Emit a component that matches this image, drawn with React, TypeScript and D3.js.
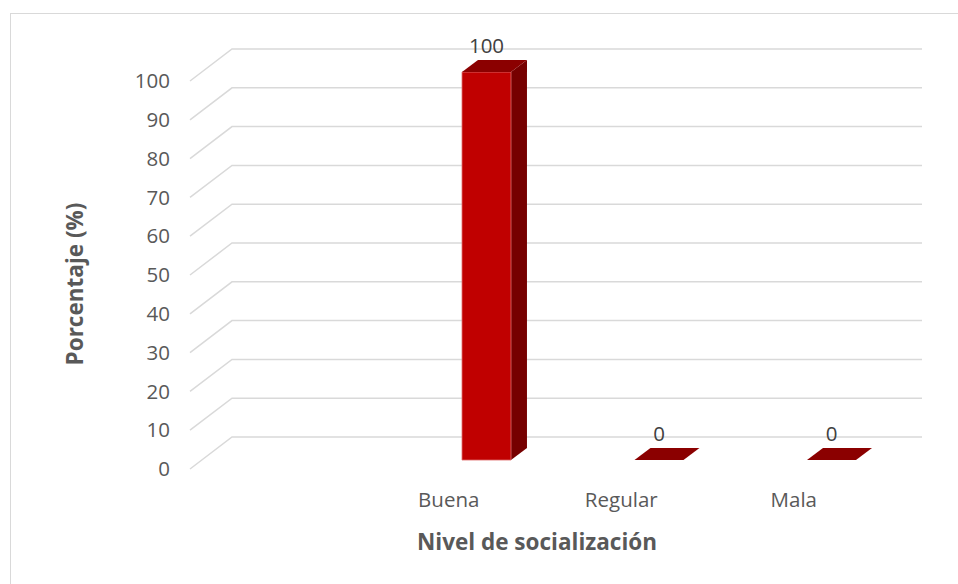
import * as d3 from 'd3'
import { FC } from 'react'

// data
const categories = ['', 'Buena', 'Regular', 'Mala']
const values: (number | null)[] = [null, 100, 0, 0]
const tickValues = [0, 10, 20, 30, 40, 50, 60, 70, 80, 90, 100]

const width = 958
const height = 584
const font = "'Open Sans', 'Liberation Sans', sans-serif"
const textColor = '#595959'
const gridColor = '#d9d9d9'

// 3d depth offsets (back wall relative to front plane)
const depthX = 42
const depthY = -32
// bar sits between these depth fractions
const barZ0 = 0.28
const barZ1 = 0.66
const barWidth = 49
const barShift = 26 // bars are drawn a bit right of the label position

const App: FC = () => {
  const xScale = d3.scaleBand<string>().domain(categories).range([190, 880])
  const yScale = d3.scaleLinear().domain([0, 100]).range([469, 81])

  // project (u, value, depth) into screen coordinates
  const px = (u: number, z: number) => u + z * depthX
  const py = (v: number, z: number) => yScale(v) + z * depthY
  const pt = (u: number, v: number, z: number) => `${px(u, z)},${py(v, z)}`

  const [u0, u1] = xScale.range()

  return (
    <svg width={width} height={height} style={{ display: 'block', position: 'absolute', left: 0, top: 0 }}>
      <rect x={0} y={0} width={width} height={height} fill='#fff' />
      <rect x={10.5} y={13.5} width={width + 20} height={height + 20} fill='none' stroke={gridColor} />

      {/* grid: side wall diagonals + back wall lines */}
      <g stroke={gridColor} strokeWidth={1.5} fill='none'>
        {tickValues.map((t) => (
          <polyline key={t} points={`${pt(u0, t, 0)} ${pt(u0, t, 1)} ${pt(u1, t, 1)}`} />
        ))}
      </g>

      {/* y tick labels */}
      <g fontFamily={font} fontSize={20.5} fill={textColor} textAnchor='end'>
        {tickValues.map((t) => (
          <text key={t} x={170} y={yScale(t)} dy='0.35em'>
            {t}
          </text>
        ))}
      </g>

      {/* bars */}
      {categories.map((c, i) => {
        const v = values[i]
        if (v === null) return null
        const uc = (xScale(c) as number) + xScale.bandwidth() / 2 + barShift
        const a = uc - barWidth / 2
        const b = uc + barWidth / 2
        return (
          <g key={c}>
            {v > 0 && (
              <>
                <polygon
                  points={`${pt(b, 0, barZ0)} ${pt(b, 0, barZ1)} ${pt(b, v, barZ1)} ${pt(b, v, barZ0)}`}
                  fill='#760000'
                />
                <polygon
                  points={`${pt(a, 0, barZ0)} ${pt(b, 0, barZ0)} ${pt(b, v, barZ0)} ${pt(a, v, barZ0)}`}
                  fill='#c00000'
                  stroke='#e07070'
                  strokeWidth={0.8}
                />
              </>
            )}
            <polygon
              points={`${pt(a, v, barZ0)} ${pt(b, v, barZ0)} ${pt(b, v, barZ1)} ${pt(a, v, barZ1)}`}
              fill='#8b0000'
            />
            <text
              x={px(uc, barZ0)}
              y={py(v, barZ1) - 14}
              dy='0.35em'
              textAnchor='middle'
              fontFamily={font}
              fontSize={20.5}
              fill='#404040'
            >
              {v}
            </text>
          </g>
        )
      })}

      {/* x category labels */}
      <g fontFamily={font} fontSize={20.5} fill={textColor} textAnchor='middle'>
        {categories.map((c) => (
          <text key={c || 'blank'} x={(xScale(c) as number) + xScale.bandwidth() / 2} y={500} dy='0.35em'>
            {c}
          </text>
        ))}
      </g>

      {/* axis titles */}
      <text
        x={537}
        y={542}
        dy='0.35em'
        textAnchor='middle'
        fontFamily={font}
        fontSize={22.5}
        fontWeight='bold'
        fill={textColor}
      >
        Nivel de socialización
      </text>
      <text
        transform='translate(75,284) rotate(-90)'
        dy='0.35em'
        textAnchor='middle'
        fontFamily={font}
        fontSize={22.5}
        fontWeight='bold'
        fill={textColor}
      >
        Porcentaje (%)
      </text>
    </svg>
  )
}

export default App
